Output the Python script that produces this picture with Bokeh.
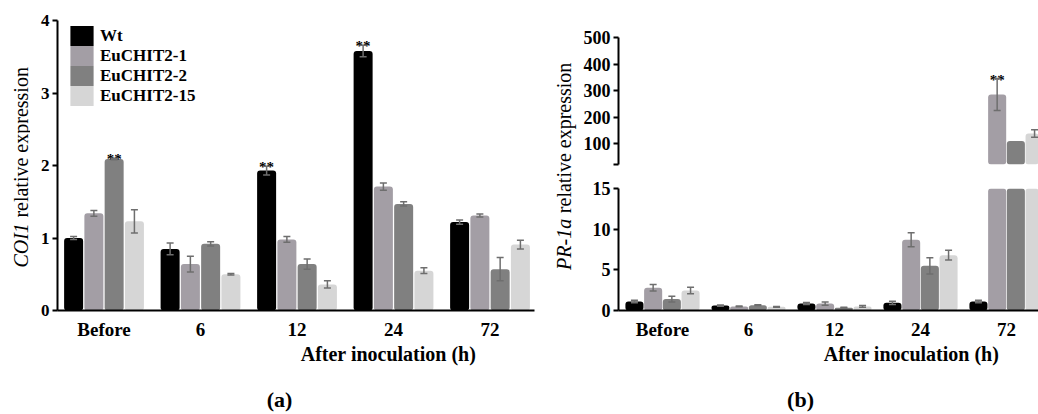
import numpy as np
from bokeh.plotting import figure
from bokeh.models import (ColumnDataSource, Range1d, FixedTicker, Whisker, TeeHead,
                          Legend, LegendItem, LinearAxis)
from bokeh.layouts import row, column
from bokeh.embed import file_html
from bokeh.resources import INLINE
from bokeh.core.properties import value

# ---------------- data ----------------
groups = ["Before", "6", "12", "24", "72"]
series = ["Wt", "EuCHIT2-1", "EuCHIT2-2", "EuCHIT2-15"]
colors = ["#000000", "#a39ea5", "#808080", "#d6d6d6"]

# (a) COI1 relative expression
coi1_wt = [1.00, 0.85, 1.93, 3.58, 1.22]
coi1_e1 = [1.34, 0.64, 0.98, 1.71, 1.31]
coi1_e2 = [2.09, 0.92, 0.64, 1.47, 0.57]
coi1_e15 = [1.23, 0.50, 0.36, 0.55, 0.91]
coi1_wt_err = [0.02, 0.08, 0.06, 0.08, 0.03]
coi1_e1_err = [0.04, 0.11, 0.04, 0.05, 0.02]
coi1_e2_err = [0.01, 0.03, 0.07, 0.03, 0.16]
coi1_e15_err = [0.16, 0.01, 0.05, 0.04, 0.06]
coi1_sig = [(0, 2), (2, 0), (3, 0)]          # (group, series) marked "**"

# (b) PR-1a relative expression
pr1a_wt = [1.1, 0.6, 0.85, 0.95, 1.1]
pr1a_e1 = [2.8, 0.5, 0.85, 8.7, 285.0]
pr1a_e2 = [1.4, 0.65, 0.35, 5.5, 110.0]
pr1a_e15 = [2.45, 0.45, 0.5, 6.8, 138.0]
pr1a_wt_err = [0.15, 0.08, 0.12, 0.2, 0.15]
pr1a_e1_err = [0.4, 0.05, 0.2, 0.85, 60.0]
pr1a_e2_err = [0.35, 0.05, 0.05, 1.0, 0.0]
pr1a_e15_err = [0.4, 0.05, 0.1, 0.6, 14.0]
pr1a_sig = [(4, 1)]

left_ticks = [0, 1, 2, 3, 4]
low_ticks = [0, 5, 10, 15]
up_ticks = [100, 200, 300, 400, 500]

x_title = "After inoculation (h)"

# ---------------- style ----------------
FONT = "Liberation Serif"
ERR = "#6e6e6e"
LOW_MAX = 15          # top of lower segment of broken axis
UP_MIN = 21           # bottom of upper segment
UP_MAX = 500
H = 414
L_TOP, L_BOTTOM = 20, 100          # borders of panel (a) frame
L_PX = (H - L_TOP - L_BOTTOM) / 4  # px per unit on panel (a) y scale


def base_fig(**kw):
    p = figure(output_backend="svg", toolbar_location=None, title=None,
               background_fill_color="white", border_fill_color="white", **kw)
    p.outline_line_color = None
    p.grid.visible = False
    return p


def strip_fig(x0, x1, y_range):
    p = figure(width=x1 - x0, height=H, x_range=Range1d(x0, x1), y_range=y_range,
               x_axis_location=None, y_axis_location=None,
               min_border_left=0, min_border_right=0,
               min_border_top=L_TOP, min_border_bottom=L_BOTTOM,
               output_backend="svg", toolbar_location=None, title=None)
    p.outline_line_color = None
    p.grid.visible = False
    return p


def style_y(ax, ticks, size):
    ax.ticker = FixedTicker(ticks=ticks)
    ax.axis_line_width = 2
    ax.axis_line_color = "black"
    ax.major_tick_line_width = 2
    ax.major_tick_out = 5
    ax.major_tick_in = 0
    ax.minor_tick_line_color = None
    ax.major_label_text_font = FONT
    ax.major_label_text_font_style = "bold"
    ax.major_label_text_font_size = size
    ax.major_label_text_color = "black"
    ax.major_label_standoff = 3


def style_x(ax):
    ax.ticker = FixedTicker(ticks=list(range(len(groups))))
    ax.major_label_overrides = {i: g for i, g in enumerate(groups)}
    ax.axis_line_width = 2
    ax.axis_line_color = "black"
    ax.major_tick_out = 0
    ax.major_tick_in = 0
    ax.major_tick_line_color = None
    ax.minor_tick_line_color = None
    ax.major_label_text_font = FONT
    ax.major_label_text_font_style = "bold"
    ax.major_label_text_font_size = "19px"
    ax.major_label_text_color = "black"
    ax.major_label_standoff = 8


def add_text_axis(p, xpos, text, standoff, size):
    """an extra bottom axis whose single tick label carries a caption"""
    ax = LinearAxis(ticker=FixedTicker(ticks=[xpos]), major_label_overrides={xpos: text})
    ax.axis_line_color = None
    ax.major_tick_line_color = None
    ax.minor_tick_line_color = None
    ax.major_tick_out = 0
    ax.major_tick_in = 0
    ax.major_label_standoff = standoff
    ax.major_label_text_font = FONT
    ax.major_label_text_font_style = "bold"
    ax.major_label_text_font_size = size
    ax.major_label_text_color = "black"
    p.add_layout(ax, "below")


def add_bars(p, vals_list, errs_list, pitch, width, clip_top=None, bottom=0,
             only_above=None):
    rends = []
    gx = np.arange(len(groups), dtype=float)
    for k, (vals, errs, col) in enumerate(zip(vals_list, errs_list, colors)):
        v = np.array(vals, dtype=float)
        e = np.array(errs, dtype=float)
        xs = gx + (k - 1.5) * pitch
        mask = np.ones(len(v), dtype=bool)
        if only_above is not None:
            mask = v > only_above
        top = v if clip_top is None else np.minimum(v, clip_top)
        src = ColumnDataSource(dict(x=xs[mask], top=top[mask]))
        r = p.vbar(x="x", top="top", bottom=bottom, width=width, source=src,
                   fill_color=col, line_color=None, border_radius=3)
        rends.append(r)
        wm = mask & (e > 0)
        if clip_top is not None:
            wm = wm & (v <= clip_top)
        wsrc = ColumnDataSource(dict(x=xs[wm], lower=(v - e)[wm], upper=(v + e)[wm]))
        p.add_layout(Whisker(source=wsrc, base="x", lower="lower", upper="upper",
                             line_color=ERR, line_width=1.5, level="overlay",
                             upper_head=TeeHead(size=7, line_color=ERR, line_width=1.5),
                             lower_head=TeeHead(size=7, line_color=ERR, line_width=1.5)))
    return rends


def add_stars(p, sig, vals_list, errs_list, pitch):
    xs, ys = [], []
    for g, s in sig:
        xs.append(g + (s - 1.5) * pitch)
        ys.append(vals_list[s][g] + errs_list[s][g])
    p.text(x=xs, y=ys, text=["**"] * len(xs), text_font=value(FONT),
           text_font_style="bold", text_font_size="15px", text_align="center",
           text_baseline="alphabetic", y_offset=1, text_color="#000000")


def ylabel(p, x, y_italic_mid, y_rest_mid, italic_part, rest):
    # vertical positions given in page px from the top, converted to panel (a) units
    to_u = lambda s: (H - L_BOTTOM - s) / L_PX
    p.text(x=[x], y=[to_u(y_italic_mid)], text=[italic_part], angle=np.pi / 2,
           text_font=value(FONT), text_font_style="italic", text_font_size="20px",
           text_align="center", text_baseline="middle", text_color="black")
    p.text(x=[x], y=[to_u(y_rest_mid)], text=[rest], angle=np.pi / 2,
           text_font=value(FONT), text_font_size="20px",
           text_align="center", text_baseline="middle", text_color="black")


# ---------------- panel (a) ----------------
coi1_vals = [coi1_wt, coi1_e1, coi1_e2, coi1_e15]
coi1_errs = [coi1_wt_err, coi1_e1_err, coi1_e2_err, coi1_e15_err]
L_PITCH, L_WIDTH = 0.21, 0.197

left = base_fig(width=515, height=H, x_range=Range1d(-0.482, 4.461), y_range=Range1d(0, 4),
                min_border_left=27, min_border_right=11, min_border_top=L_TOP,
                min_border_bottom=L_BOTTOM)
style_y(left.yaxis[0], left_ticks, "17px")
style_x(left.xaxis[0])
add_text_axis(left, 2.948, x_title, 0, "20px")
add_text_axis(left, 1.819, "(a)", 19, "22px")
rends = add_bars(left, coi1_vals, coi1_errs, L_PITCH, L_WIDTH)
add_stars(left, coi1_sig, coi1_vals, coi1_errs, L_PITCH)

# one single-entry legend per series so the swatches stack without gaps
legend_bottoms = [262, 242, 222, 202]
for s, r, vb in zip(series, rends, legend_bottoms):
    left.add_layout(Legend(items=[LegendItem(label=s, renderers=[r])],
                           location=(10, vb), padding=0, margin=0, spacing=0,
                           glyph_width=29, glyph_height=25, label_height=25,
                           label_standoff=4, label_text_font=FONT, label_text_font_style="bold",
                           label_text_font_size="17px", label_text_color="black",
                           background_fill_alpha=0, border_line_alpha=0))

# y-axis titles (italic gene name + regular text) in thin caption strips
strip_l = strip_fig(0, 30, left.y_range)
ylabel(strip_l, 20, 248, 141, "COI1", "relative  expression")
strip_m = strip_fig(545, 580, left.y_range)
ylabel(strip_m, 563, 247, 139, "PR-1a", "relative expression")

# ---------------- panel (b) ----------------
pr1a_vals = [pr1a_wt, pr1a_e1, pr1a_e2, pr1a_e15]
pr1a_errs = [pr1a_wt_err, pr1a_e1_err, pr1a_e2_err, pr1a_e15_err]
R_PITCH, R_WIDTH = 0.2175, 0.21
xr = Range1d(-0.5116, 4.372)

upper = base_fig(width=458, height=176, x_range=xr, y_range=Range1d(UP_MIN, UP_MAX),
                 x_axis_location=None,
                 min_border_left=38, min_border_right=0, min_border_top=37, min_border_bottom=12)
style_y(upper.yaxis[0], [UP_MIN] + up_ticks, "18px")
upper.yaxis[0].major_label_overrides = {UP_MIN: ""}
add_bars(upper, pr1a_vals, pr1a_errs, R_PITCH, R_WIDTH, bottom=UP_MIN, only_above=LOW_MAX)
add_stars(upper, pr1a_sig, pr1a_vals, pr1a_errs, R_PITCH)

lower = base_fig(width=458, height=238, x_range=xr, y_range=Range1d(0, LOW_MAX),
                 min_border_left=38, min_border_right=0, min_border_top=12, min_border_bottom=100)
style_y(lower.yaxis[0], low_ticks, "18px")
style_x(lower.xaxis[0])
add_text_axis(lower, 2.895, x_title, 0, "20px")
add_text_axis(lower, 1.605, "(b)", 19, "22px")
add_bars(lower, pr1a_vals, pr1a_errs, R_PITCH, R_WIDTH, clip_top=LOW_MAX)

layout = row(strip_l, left, strip_m, column(upper, lower, spacing=0), spacing=0)
open("out.html", "w").write(file_html(layout, INLINE))
